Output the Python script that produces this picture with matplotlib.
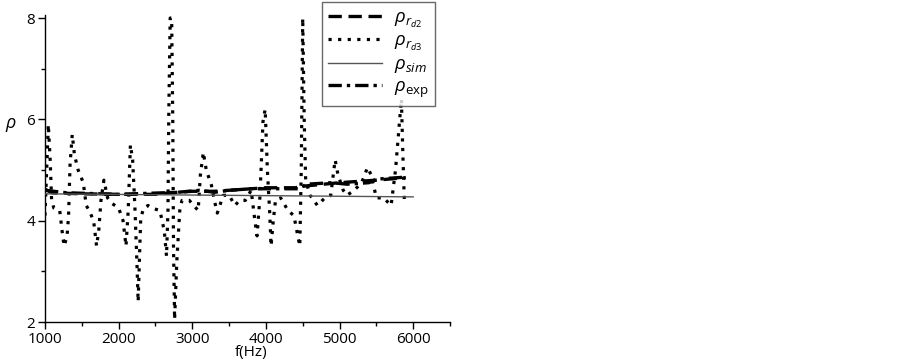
import matplotlib
matplotlib.use("Agg")
import matplotlib.pyplot as plt

# rho_rd3 (dotted)
f_rd3 = [1000, 1020, 1045, 1070, 1090, 1120, 1200, 1240, 1260, 1300, 1320, 1340,
         1370, 1400, 1450, 1520, 1560, 1600, 1660, 1700, 1730, 1760, 1800, 1850,
         1900, 1950, 2000, 2060, 2100, 2130, 2160, 2190, 2220, 2250, 2265, 2290,
         2300, 2340, 2400, 2450, 2560, 2620, 2650, 2670, 2680, 2700, 2720, 2735,
         2745, 2760, 2790, 2830, 2860, 2960, 3080, 3110, 3150, 3190, 3260, 3300,
         3340, 3420, 3500, 3580, 3640, 3720, 3800, 3850, 3880, 3920, 3960, 3990,
         4020, 4050, 4070, 4100, 4130, 4200, 4300, 4380, 4420, 4460, 4480, 4500,
         4520, 4540, 4600, 4700, 4800, 4880, 4940, 4980, 5050, 5100, 5200, 5300,
         5380, 5430, 5500, 5600, 5700, 5760, 5800, 5840, 5860, 5880]
rho_rd3 = [4.1, 4.9, 5.9, 5.2, 4.4, 4.25, 4.2, 3.7, 3.5, 3.7, 4.1, 5.1,
           5.7, 5.3, 5.0, 4.75, 4.3, 4.2, 4.0, 3.5, 3.8, 4.4, 4.8, 4.45,
           4.35, 4.3, 4.25, 4.0, 3.5, 4.2, 5.5, 5.2, 4.3, 3.1, 2.4, 3.6,
           4.05, 4.25, 4.3, 4.25, 4.2, 3.8, 3.3, 4.2, 6.0, 8.0, 8.0, 6.0,
           3.5, 2.05, 3.2, 4.2, 4.4, 4.4, 4.2, 4.9, 5.35, 5.0, 4.7, 4.4,
           4.15, 4.5, 4.5, 4.3, 4.4, 4.4, 4.6, 4.0, 3.7, 4.5, 5.95, 6.2,
           5.0, 4.2, 3.5, 4.0, 4.4, 4.45, 4.2, 4.1, 3.8, 3.5, 5.0, 8.0,
           6.0, 4.8, 4.5, 4.3, 4.45, 4.5, 5.2, 4.9, 4.6, 4.5, 4.6, 4.75,
           5.05, 4.9, 4.45, 4.45, 4.3, 5.0, 5.7, 6.4, 5.3, 4.4]

# rho_rd2 (dashed)
f_rd2 = [1000, 1100, 1500, 2000, 2500, 2700, 3000, 3300, 3500, 4000, 4400, 4500,
         5000, 5500, 5900]
rho_rd2 = [4.62, 4.55, 4.53, 4.52, 4.52, 4.55, 4.58, 4.58, 4.6, 4.65, 4.65, 4.68,
           4.75, 4.8, 4.85]

# rho_exp (dash-dot)
f_exp = [1000, 1300, 2000, 2800, 3100, 3300, 3500, 3800, 4450, 4550, 4900, 5100,
         5400, 5500, 5900]
rho_exp = [4.6, 4.55, 4.52, 4.56, 4.6, 4.56, 4.6, 4.63, 4.63, 4.72, 4.75, 4.72,
           4.75, 4.82, 4.86]

# rho_sim (thin solid)
f_sim = [1000, 6000]
rho_sim = [4.53, 4.47]

x_ticks = [1000, 2000, 3000, 4000, 5000, 6000]
y_ticks = [2, 4, 6, 8]

plt.rcParams["font.family"] = ["Open Sans", "DejaVu Sans"]
plt.rcParams["mathtext.fontset"] = "custom"
plt.rcParams["mathtext.rm"] = "Open Sans"
plt.rcParams["mathtext.it"] = "Open Sans:italic"

fig = plt.figure(figsize=(9.03, 3.64), dpi=100)
ax = fig.add_axes([45 / 903, 1 - 322 / 364, 405 / 903, 306.5 / 364])

ax.plot(f_rd2, rho_rd2, color="black", lw=2.4, ls=(0, (4, 2)),
        label=r"$\rho_{r_{d2}}$", zorder=3)
ax.plot(f_rd3, rho_rd3, color="black", lw=2.3, ls=(0, (1, 2)),
        label=r"$\rho_{r_{d3}}$", zorder=2)
ax.plot(f_sim, rho_sim, color="#555555", lw=1.0, ls="-",
        label=r"$\rho_{sim}$", zorder=4)
ax.plot(f_exp, rho_exp, color="black", lw=2.4, ls=(0, (4, 1.5, 1, 1.5)),
        label=r"$\rho_{\mathrm{exp}}$", zorder=3)

ax.set_xlim(1000, 6435)
ax.set_ylim(2, 8.05)
ax.set_xticks(x_ticks)
ax.set_yticks(y_ticks)
ax.set_xticks([1500, 2500, 3500, 4500, 5500, 6000 + 500], minor=True)
ax.set_yticks([3, 5, 7], minor=True)
ax.tick_params(axis="both", which="major", direction="out", length=5,
               width=1, labelsize=11, pad=2)
ax.tick_params(axis="both", which="minor", direction="out", length=3, width=1)
for s in ["top", "right"]:
    ax.spines[s].set_visible(False)
for s in ["left", "bottom"]:
    ax.spines[s].set_linewidth(1.0)

ax.set_xlabel("f(Hz)", fontsize=11, labelpad=0)
ax.xaxis.set_label_coords(0.51, -0.075)
ax.set_ylabel(r"$\rho$", fontsize=13, rotation=0, va="center")
ax.yaxis.set_label_coords(-0.085, 0.643)

leg = ax.legend(loc="upper right", bbox_to_anchor=(435 / 903, 1 - 2 / 364),
                bbox_transform=fig.transFigure, frameon=True, fancybox=False,
                fontsize=13.5, handlelength=2.9, labelspacing=0.12,
                borderpad=0.35, handletextpad=0.6, borderaxespad=0)
leg.get_frame().set_edgecolor("#444444")
leg.get_frame().set_linewidth(1.0)

fig.savefig("out.png", dpi=100)
